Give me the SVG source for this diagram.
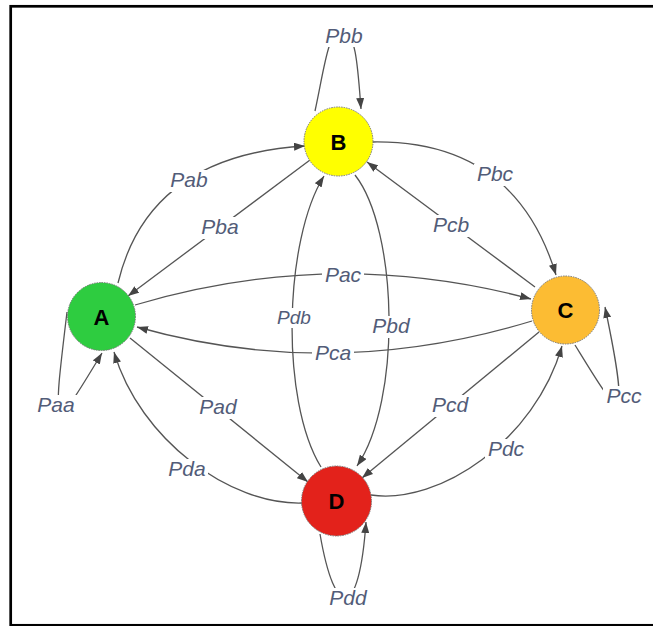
<svg xmlns="http://www.w3.org/2000/svg" width="653" height="626" viewBox="0 0 653 626">
<style>
.edge{fill:none;stroke:#555;stroke-width:1.3;marker-end:url(#arr)}
.node circle{stroke:#777;stroke-width:1;stroke-dasharray:1.5 1}
.node text{font-family:"Liberation Sans",Arial,sans-serif;font-weight:bold;font-size:22px;fill:#000;text-anchor:middle}
.lbl rect{fill:#fff}
.lbl text{font-family:"Liberation Sans",Arial,sans-serif;font-style:italic;font-size:21px;fill:#525c78;text-anchor:middle}
</style>
<defs>
<marker id="arr" markerUnits="userSpaceOnUse" markerWidth="11" markerHeight="8" refX="11" refY="4" orient="auto">
<path d="M0,0 L11,4 L0,8 z" fill="#444"/>
</marker>
</defs>
<rect x="0" y="0" width="653" height="626" fill="#fff"/>
<rect x="10.7" y="6.3" width="660" height="619" fill="none" stroke="#000" stroke-width="2.7"/>
<g id="connectors">
<path id="e-bb" class="edge" d="M315,111 C324,70 328,30 342,30 C356,30 358,70 361,109"/>
<path id="e-ab" class="edge" d="M118,283 Q148.5,155.5 305,146"/>
<path id="e-ba" class="edge" d="M310,160 L128,296"/>
<path id="e-bc" class="edge" d="M373,142 Q515,140 556,275"/>
<path id="e-cb" class="edge" d="M535,287 L367,162"/>
<path id="e-ac" class="edge" d="M135,305 Q333,246 531,299"/>
<path id="e-ca" class="edge" d="M532,321 Q331.5,382 137,327"/>
<path id="e-db" class="edge" d="M321,467 C280,400 284,240 324,176"/>
<path id="e-bd" class="edge" d="M355,175 C398,230 402,400 357,466"/>
<path id="e-ad" class="edge" d="M130,338 L308,482"/>
<path id="e-da" class="edge" d="M302,503 C230,505 140,440 114,352"/>
<path id="e-cd" class="edge" d="M539,332 L362,478"/>
<path id="e-dc" class="edge" d="M371,495 C440,505 535,440 562,346"/>
<path id="e-dd" class="edge" d="M320,534 C335,621 359,621 366,522"/>
<path id="e-aa" class="edge" d="M67,312 C52,436 52,436 102,353"/>
<path id="e-cc" class="edge" d="M575,345 C615,410 634,445 605,307"/>
</g>
<g id="labels">
<g class="lbl"><rect x="323" y="25" width="42" height="22"/><text x="344" y="43">Pbb</text></g>
<g class="lbl"><rect x="168" y="170" width="42" height="22"/><text x="189" y="187">Pab</text></g>
<g class="lbl"><rect x="199" y="217" width="42" height="22"/><text x="220" y="234">Pba</text></g>
<g class="lbl"><rect x="474" y="164" width="42" height="22"/><text x="495" y="181">Pbc</text></g>
<g class="lbl"><rect x="430" y="215" width="42" height="22"/><text x="451" y="232">Pcb</text></g>
<g class="lbl"><rect x="322" y="265" width="42" height="22"/><text x="343" y="282">Pac</text></g>
<g class="lbl"><rect x="275" y="308" width="38" height="20"/><text x="294" y="324" style="font-size:19px">Pdb</text></g>
<g class="lbl"><rect x="370" y="316" width="42" height="22"/><text x="391" y="333">Pbd</text></g>
<g class="lbl"><rect x="312" y="343" width="42" height="22"/><text x="333" y="360">Pca</text></g>
<g class="lbl"><rect x="35" y="395" width="42" height="22"/><text x="56" y="412">Paa</text></g>
<g class="lbl"><rect x="603" y="386" width="42" height="22"/><text x="624" y="403">Pcc</text></g>
<g class="lbl"><rect x="197" y="397" width="42" height="22"/><text x="218" y="414">Pad</text></g>
<g class="lbl"><rect x="429" y="395" width="42" height="22"/><text x="450" y="412">Pcd</text></g>
<g class="lbl"><rect x="166" y="459" width="42" height="22"/><text x="187" y="476">Pda</text></g>
<g class="lbl"><rect x="485" y="439" width="42" height="22"/><text x="506" y="456">Pdc</text></g>
<g class="lbl"><rect x="327" y="588" width="42" height="22"/><text x="348" y="605">Pdd</text></g>
</g>
<g id="node-A" class="node"><circle cx="101.5" cy="316.5" r="34" fill="#2ecc40"/><text x="101.5" y="324.5">A</text></g>
<g id="node-B" class="node"><circle cx="338.5" cy="141.5" r="34.5" fill="#ffff00"/><text x="338.5" y="149.5">B</text></g>
<g id="node-C" class="node"><circle cx="565.5" cy="310" r="34" fill="#fcbc33"/><text x="565.5" y="318">C</text></g>
<g id="node-D" class="node"><circle cx="336.5" cy="501" r="35" fill="#e3221b"/><text x="336.5" y="509">D</text></g>
</svg>
